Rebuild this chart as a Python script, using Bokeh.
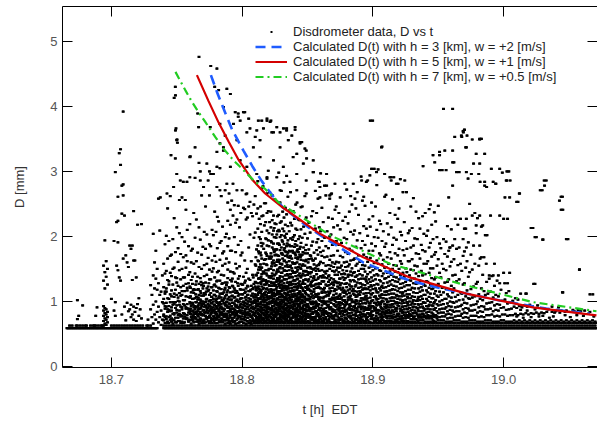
from bokeh.plotting import figure
from bokeh.models import (Range1d, LinearAxis, FixedTicker, PrintfTickFormatter,
                          CustomJSTickFormatter, Legend, LegendItem)
from bokeh.embed import file_html
from bokeh.resources import INLINE

# ---------------- data ----------------
# disdrometer samples: "ms:D D|D D" -> t = 18 + ms/1000 h (left group) and
# 18 + (ms+1)/1000 h (right group); D in 1/100 mm
cols_left = [
    "666:59|59", "668:59 63|59", "670:59 63|59", "672:59|59 63", "674:59 63 73 102|59 78",
    "676:59 63|59", "678:59 63 94|59", "680:59 63|59 63", "682:59|59", "684:59 63|59",
    "686:59 63|59 63", "688:59 63 78|59 91", "690:59 63|59", "692:59 63|59 63",
    "694:59 63 70 78 86 93 132 155|59 66 74 82 90 120 145 194",
    "696:59 64 72 80 88 138 162|59 68 76 84 126 150",
    "698:59|59", "700:59 63 104|59", "702:59 63 86 193|59 78 99 299",
    "704:59 63 155 222|59 148 191 224 261", "706:59 63 137 328|59 132 310 334",
    "708:59 63 80 235 278|59 166 263 280 392", "710:59 63 92 232|59 71 171",
    "712:59 63 98 160|59 85 153", "714:59 63 88 186|59 76 95 181",
    "716:59 63 80 133 186|59 72 92 163 239", "718:59 63 84 163|59 70 90 137",
    "720:59 63 96 218|59 78 105", "722:59 63 88|59 74 219", "724:59 63|59", "726:59|59 63",
    "728:59 63 72|59", "730:59 63 88 125|59 76 110", "732:59 66 95 140 204|59 80 120 160",
    "734:59 72 100 135 178|59 84 118 150", "736:68 92 128 258|76 110 209",
    "738:64 86 115|72 99 140",
]
cols_rise = [
    "746:59 63 69 74 86 91 108 117 139 172|59 66 72 81 95 99 126 150 196",
    "740:59 63 71 78 80 97 104 122 158|59 67 76 89 93 112 115 143 188",
    "750:59 63 68 83 87 94 110 129 136 214|59 70 75 79 101 106 124 161 182",
    "742:59 63 73 77 92 98 115 120 147 201|59 67 69 84 88 105 133 166 243",
    "748:59 63 71 80 82 96 107 112 152 228|59 68 75 90 99 118 137 176",
    "744:59 63 67 76 87 93 104 126 131 193|59 72 78 85 99 111 144 170 262",
    "758:59 63 74 79 90 96 117 121 162 210|59 69 71 83 88 107 128 141 185",
    "752:59 63 70 81 86 95 100 113 148 205 256|59 67 77 79 92 109 122 134 173",
    "762:59 63 72 75 85 98 104 127 138 181|59 68 80 83 91 113 119 158 236",
    "754:59 63 69 78 88 91 110 116 150 199|59 67 74 82 96 102 124 137 168 284",
    "760:59 63 71 84 87 99 106 123 145 219|59 66 76 80 93 97 114 133 160 178",
    "756:59 63 68 77 81 94 102 116 137 192|59 73 75 89 91 108 127 152 171 241",
    "770:59 63 70 79 86 97 100 120 128 184|59 67 72 83 92 111 113 139 156 207",
    "764:59 63 74 76 88 93 105 118 143 198 290|59 69 81 84 99 107 131 162 226",
    "774:59 63 70 75 82 90 96 116 123 167 286|59 67 78 86 94 101 110 134 149 188 300",
    "766:59 63 72 79 85 92 103 118 138 175|59 66 71 81 89 97 110 127 153 214",
    "772:59 63 68 78 83 94 99 111 129 181 246|59 73 76 87 90 104 120 141 158 203",
    "768:59 63 70 74 84 89 98 103 116 136 195|59 67 79 81 93 96 109 125 150 172 263",
    "782:59 63 72 76 85 94 97 105 121 147 223|59 68 80 83 90 99 112 132 164 190",
    "776:59 63 70 75 80 88 92 102 113 134 185 296|59 67 73 84 86 97 107 122 146 163 210",
    "786:59 63 71 76 85 89 98 103 114 140 177|59 66 79 81 94 96 108 121 129 158 199 271",
    "778:59 63 73 77 86 91 100 104 117 151 202|59 67 75 82 88 95 110 126 137 170 238",
    "784:59 63 70 74 83 92 96 106 119 141 193 262|59 68 79 81 88 101 112 128 155 174 215",
    "780:59 63 72 80 84 93 102 108 123 161 207|59 67 76 78 89 98 115 132 145 182 230",
    "794:59 63 69 75 84 88 97 106 120 143 199 248|59 66 79 82 92 101 113 130 158 176 221",
    "788:59 63 71 76 81 94 99 110 125 166 204|59 67 73 85 90 104 117 136 149 185 224 252",
    "798:59 63 68 77 86 91 100 111 139 154 214|59 73 82 83 96 105 118 127 171 193 236",
    "790:59 63 70 74 83 92 97 107 122 160 197 266|59 66 79 87 89 102 114 133 146 178 218 241",
    "796:59 63 72 81 85 94 103 116 151 226|59 67 77 78 90 99 109 124 135 187 247",
    "792:59 63 70 75 84 93 103 108 131 178 255|59 68 80 83 89 98 115 123 145 232 281",
    "806:59 63 71 81 85 94 104 116 133 203 253|59 66 76 78 90 99 109 124 162 236",
    "800:59 63 69 77 86 91 105 111 126 175 271|59 67 73 82 95 100 118 138 244",
    "808:59 63 70 74 84 92 97 112 119 141 231|59 67 79 81 88 101 106 127 198 249",
    "802:59 63 72 76 85 93 98 113 129 163 242|59 66 80 82 89 102 107 120 144 226 265",
    "804:59 63 70 75 83 92 96 110 124 150 229|59 67 79 80 88 100 105 116 135 183 246",
]
cols_core = [
    "816:59 63 71 75 83 87 95 103 108 119 134 146 189 232 277|59 67 70 79 81 91 99 106 113 126 143 164 217 251",
    "810:59 63 70 78 82 90 98 102 111 123 130 157 206 262|59 67 74 76 86 94 97 106 117 121 140 180 235",
    "820:59 63 72 76 84 92 96 104 113 118 131 148 194 239 301|59 67 69 80 88 89 100 108 115 124 139 169 222 268",
    "812:59 63 70 74 82 89 93 101 110 121 128 144 163 186 212 243 285|59 67 72 78 86 87 97 105 115 119 136 153 174 199 227",
    "818:59 63 69 75 78 84 91 94 102 110 115 126 133 148 165 175 197 222 251|59 67 72 73 81 88 90 98 106 108 120 128 140 156 170 186 209 236 289",
    "814:59 63 70 76 79 86 92 96 104 113 118 129 135 149 157 175 196 219 246|59 67 73 74 82 89 90 100 108 111 123 131 142 152 166 185 207 231 274",
    "828:59 63 69 72 81 85 91 95 103 111 116 127 133 146 161 170 189 210 233 298|59 67 75 78 80 88 93 99 107 112 121 130 139 153 158 179 199 221 252",
    "822:59 63 70 76 80 86 90 97 105 114 119 130 136 150 166 174 193 214 238|59 67 73 74 83 88 93 101 109 111 124 128 143 158 160 183 203 225 263",
    "832:59 63 69 75 78 85 92 99 103 107 117 128 134 147 162 179 188 208 229 283|59 67 72 76 82 88 95 96 106 112 122 124 140 154 170 177 198 218 244",
    "824:59 63 70 73 79 86 93 100 104 113 118 129 135 148 163 180 189 209 232|59 67 76 77 83 89 96 98 109 111 124 126 141 155 171 178 199 220 257",
    "830:59 63 69 72 79 85 92 96 103 111 116 126 132 144 158 174 183 202 223 270|59 67 75 76 82 89 91 99 107 109 121 124 138 151 166 172 192 212 238",
    "826:59 63 70 77 80 83 90 97 101 110 119 125 130 143 156 172 180 198 219|59 67 73 74 84 87 94 98 105 114 116 131 136 149 164 171 189 208 231",
    "840:59 63 69 76 79 82 93 96 100 112 117 122 133 145 159 175 184 202 227|59 67 72 75 83 86 89 101 104 108 122 127 139 152 167 171 193 212 249",
    "834:59 63 70 73 80 86 90 97 105 109 118 123 134 147 160 176 185 204 234 293|59 67 76 77 83 85 93 101 110 114 123 129 140 153 168 175 194 216 261",
    "844:59 63 69 72 78 85 92 95 103 111 116 126 131 143 157 172 181 200 225|59 67 75 76 82 88 89 99 107 108 121 122 137 150 164 170 190 211 245",
    "836:59 63 70 77 80 87 91 98 106 110 120 125 136 148 162 178 187 208 240|59 67 73 74 84 85 94 102 107 115 126 130 142 155 170 177 197 221 268",
    "842:59 63 69 76 79 86 90 97 105 109 118 123 134 146 160 177 186 210 252|59 67 72 73 83 84 93 101 106 113 124 128 140 153 168 176 196 226",
    "838:59 63 70 74 81 84 91 99 103 111 121 126 138 151 166 185 217|59 67 77 78 88 89 95 107 108 116 127 132 144 158 175 199 239",
    "848:59 63 69 72 78 82 88 95 99 107 116 127 140 155 174 204 262|59 67 75 76 85 86 92 103 104 111 121 133 147 164 187 229",
    "846:59 63 70 73 80 83 90 98 102 111 121 127 140 155 172 198 246|59 67 77 78 87 88 94 106 107 116 127 133 147 163 183 215",
]
cols_mid = [
    "856:59 63 71 74 85 90 99 107 111 126 133 151 166 212 270|59 67 70 81 84 95 97 110 121 127 142 155 179 191 236",
    "850:59 63 69 78 81 92 96 103 118 124 141 152 174 197|59 67 75 77 88 91 104 108 119 134 144 165 180 221",
    "860:59 63 73 77 86 90 101 106 120 127 139 161 176 208 297|59 67 70 80 83 94 99 113 115 131 137 148 170 193 244",
    "852:59 63 68 79 85 89 100 104 117 125 143 153 171 206|59 67 74 76 88 96 98 112 123 130 145 166 186 231",
    "858:59 63 71 78 82 93 95 107 111 127 135 150 172 196 258|59 67 69 75 87 90 102 106 121 128 147 158 183 214 284",
    "854:59 63 72 81 84 96 100 109 124 132 150 163 192 239|59 67 70 76 89 92 97 115 119 136 139 157 175 211",
    "868:59 63 68 77 81 91 98 102 116 127 136 155 170 203 265|59 67 74 78 85 88 103 106 121 129 147 160 187 227",
    "862:59 63 71 75 86 89 101 105 119 131 140 159 178 222|59 67 73 82 84 97 100 114 121 137 146 168 198 278",
    "872:59 63 69 80 83 92 99 112 118 130 148 161 193 246|59 67 72 77 88 95 104 107 123 128 141 152 178 217",
    "864:59 63 73 76 85 90 97 108 114 126 143 155 185 263|59 67 70 81 83 94 100 110 124 136 147 169 208",
    "870:59 63 68 74 84 87 96 105 110 125 134 153 171 214|59 67 72 79 86 93 101 106 119 131 141 158 189 241",
    "866:59 63 71 78 82 92 95 109 115 130 139 156 182 229|59 67 69 76 88 90 104 113 120 133 150 164 200 258",
    "880:59 63 73 80 85 96 99 111 122 128 147 161 196 272|59 67 70 77 82 89 102 106 117 138 141 154 173 220",
    "874:59 63 68 75 86 91 97 108 120 129 145 160 187 236|59 67 72 82 84 94 104 111 125 135 152 170 211",
    "884:59 63 71 74 83 88 99 103 116 123 140 151 178 249|59 67 69 79 87 92 100 112 119 133 144 164 203 281",
    "876:59 63 73 77 85 90 98 106 118 128 142 155 190|59 67 70 81 86 96 102 114 121 137 148 168 224",
    "882:59 63 68 76 82 91 95 107 113 126 141 157 181 238|59 67 74 78 88 93 103 109 123 131 146 163 207 262",
    "878:59 63 71 79 84 90 101 108 117 133 143 160 198|59 67 69 75 87 95 99 115 127 136 153 176 230",
    "892:59 63 72 77 81 92 97 105 118 126 140 156 193 255|59 67 70 80 85 89 103 112 120 135 150 172 216 261",
    "886:59 63 68 74 86 93 99 110 116 131 145 166 209|59 67 73 78 83 96 102 107 125 138 155 184 243",
    "896:59 63 71 76 82 90 100 105 119 128 142 161 201 286|59 67 69 80 87 93 97 113 122 134 152 178 226",
    "888:59 63 72 78 86 89 101 108 115 129 140 158 194 268|59 67 70 75 84 92 97 111 121 134 147 171 233",
    "894:59 63 68 77 80 91 98 106 119 125 146 155 187 247|59 67 73 74 87 88 103 109 113 131 138 168 212 284",
    "890:59 63 71 79 84 92 96 110 116 128 142 161 205|59 67 69 76 88 90 101 105 122 135 150 182 292",
    "904:59 63 72 75 83 87 99 104 114 126 140 158 198 303|59 67 70 80 86 95 98 109 120 133 148 174 224",
    "898:59 63 68 78 81 89 97 106 117 130 145 167 215 378|59 67 74 77 85 93 101 111 123 137 154 189 252",
    "908:59 63 71 76 84 88 100 105 121 128 143 164 208|59 67 69 80 82 92 96 110 115 135 152 184 261 296",
    "900:59 63 73 79 85 93 102 113 119 132 148 178 231|59 67 70 74 89 91 98 107 125 140 159 199 304",
    "906:59 63 69 76 80 92 96 106 117 131 147 171 219|59 67 73 78 84 88 101 111 124 139 157 193 338",
    "902:59 63 70 74 86 90 98 108 120 134 151 185 246|59 67 72 82 83 94 103 114 127 142 163 210 279",
    "916:59 63 69 80 84 92 101 112 124 138 156 198 291|59 67 72 76 88 97 106 118 131 146 174 233",
    "910:59 63 70 78 86 90 104 110 122 136 153 189 264|59 67 74 82 83 95 99 116 129 144 168 220",
    "920:59 63 69 77 81 93 98 108 120 134 150 181 243|59 67 73 74 85 89 103 114 127 141 162 207 288",
    "912:59 63 70 78 87 91 100 111 124 138 158 203|59 67 74 82 84 95 105 117 131 146 176 236",
    "918:59 63 69 77 85 90 99 110 123 137 155 195 281|59 67 73 79 81 94 104 116 130 145 171 227",
    "914:59 63 70 78 82 91 101 112 126 141 166 214 286|59 67 74 76 86 96 106 119 133 150 187 257",
    "928:59 63 69 77 81 90 100 111 125 140 162 209|59 67 73 79 86 95 105 118 132 149 183 246",
    "922:59 63 70 78 87 97 108 121 136 158 202|59 67 74 83 84 92 102 114 128 144 179 268",
    "932:59 63 69 77 86 96 107 120 135 155 197|59 67 73 82 83 91 101 113 127 143 174 238",
    "924:59 63 70 79 88 98 109 123 138 171 222|59 67 74 77 83 93 103 116 130 151 193",
    "930:59 63 69 78 87 97 108 121 136 165 213|59 67 73 76 82 92 102 114 128 148 186 259",
    "926:59 63 70 79 89 99 111 125 145 181|59 67 75 77 84 94 105 118 133 162 205",
    "940:59 63 69 78 88 98 110 124 142 177 236|59 67 74 76 83 93 104 117 131 158 201",
    "934:59 63 71 80 90 101 113 128 154 196|59 67 75 77 85 95 107 120 139 173 228",
    "944:59 63 69 78 88 99 112 126 151 190 249|59 67 74 77 83 94 105 119 136 169 218",
    "936:59 63 71 80 91 102 115 132 166 212|59 67 75 77 85 96 108 122 147 187",
    "942:59 63 69 79 89 101 114 130 162 209|59 67 74 76 84 95 107 121 144 183 242",
    "938:59 63 71 81 92 104 117 140 179 231|59 67 76 78 86 98 110 126 158 204",
    "948:59 63 69 79 90 102 116 137 176 223|59 67 74 77 85 96 109 124 155 199",
    "946:59 63 71 81 93 105 120 151 196 325|59 67 76 78 87 99 112 134 172 237",
]
cols_tail = [
    "956:59 63 69 80 91 104 119 148 192|59 67 74 85 97 111 130 169 216",
    "950:59 63 71 82 94 107 127 165 247|59 67 76 88 100 115 144 189 302",
    "960:59 63 69 80 92 106 124 161 211|59 67 75 86 99 114 140 186 278",
    "952:59 63 71 83 95 110 137 182|59 67 77 89 102 121 158 302",
    "958:59 63 69 81 93 108 134 178 260|59 67 75 87 100 118 154 183",
    "954:59 63 71 83 96 114 150 196 396|59 67 77 89 104 129 173 332",
    "968:59 63 69 81 95 112 147 353|59 67 75 88 103 126 170 196 362",
    "962:59 63 71 84 98 120 165 314|59 67 77 91 107 141 227",
    "972:59 63 69 82 97 117 162 355|59 67 75 89 105 138 191",
    "964:59 63 71 85 100 131 181 299|59 67 78 92 110 156 218",
    "970:59 63 69 83 98 128 177 364|59 67 76 90 108 152 212 337",
    "966:59 63 71 85 102 134 183 299|59 67 78 93 114 158 227",
    "980:59 63 69 83 100 130 228|59 67 76 91 111 155 296",
    "974:59 63 71 86 104 145 250|59 67 78 94 119 172",
    "984:59 63 69 84 102 141 217|59 67 76 92 116 168",
    "976:59 63 71 86 106 149 232 349|59 67 78 95 123 186 312",
    "982:59 63 69 85 104 166 284|59 67 77 93 120 215 350",
    "978:59 63 71 87 108 158 236|59 67 78 96 127 205 327",
    "992:59 63 69 85 106 140 284|59 67 77 94 124 158",
    "986:59 63 71 88 110 202|59 67 79 97 130 276",
    "996:59 63 69 86 108 140|59 67 77 95 128 304",
    "988:59 63 71 88 112|59 67 79 98 135",
    "994:59 63 69 87 110 281|59 67 78 96 132",
    "990:59 63 71 89 115 232|59 67 80 99 139",
    "1002:59 63 69 87 113|59 67 78 97 128",
    "998:59 63 71 90 118|59 67 80 101 298",
    "1004:59 63 69 88 116 300|59 67 79 99 286",
    "1000:59 63 71 91 144 227|59 67 80 103 260",
    "1006:59 63 69 89 98|59 67 79 101", "1008:59 63 71 92|59 67 81 105",
    "1010:59 63 69 77 90 253|59 67 79 103", "1012:59 63 71 93 266|59 67 81 87 112",
    "1014:59 63 69 91|59 67 75 80", "1016:59 63 71 94|59 67 82 112",
    "1018:59 63 69 86 92|59 67 80", "1020:59 63 71 95|59 67 76 82 213",
    "1022:59 63 69 93|59 67 81 127", "1024:59 63 71 88 199|59 67 83",
    "1026:59 63 69 94|59 67 77 81", "1028:59 63 71 271|59 67 83 90",
    "1030:59 63 69 78 195|59 67 82 286", "1032:59 63 71|59 67 84",
    "1034:59 63 69 88|59 67 75", "1036:59 63 71|59 67 84 92",
    "1038:59 63 69 77|59 67 83", "1040:59 63 71 85|59 67",
    "1042:59 63 69 91|59 67 83", "1044:59 63 71 86 241|59 67 114 261",
    "1046:59 63 69|59 67 79 84", "1048:59 63 71 86 196|59 67",
    "1050:59 63 69 84|59 67 76", "1052:59 63 71|59 67 87",
    "1054:59 63 69 85|59 67", "1056:59 63 71 79|59 67 87",
    "1058:59 63 69 149|59 67 85", "1060:59 63 71|59 67 78",
    "1062:59 63 69 86|59 67", "1064:59 63 71|59 67 81",
    "1066:59 63 69 84 111|59 67", "1068:59 63 71|59 67 77", "1070:59 63 69|59 67",
]
# extra samples in the densest part of the cloud: "t:D D" with t = 18 + t/10000 h
cols_dense_extra = [
    "7605:72 81 89 97 108 121", "7625:70 78 86 95 104 117", "7645:74 83 91 99 111 126",
    "7665:69 77 88 94 106 119", "7685:73 80 90 101 113 130", "7705:71 79 87 96 109 124",
    "7725:75 84 92 103 115", "7745:68 76 85 93 100 118 128", "7765:72 82 89 98 107 122",
    "7785:70 77 86 95 110 125", "7805:74 81 91 99 104 116 131", "7825:69 78 87 94 108 120",
    "7845:73 83 90 102 112 127", "7865:71 80 88 97 105 118", "7885:75 79 92 100 114 129",
    "7905:68 77 85 96 103 121", "7925:72 82 89 98 109 124 135", "7945:70 78 87 95 107 117",
    "7965:74 84 91 101 113 128", "7985:69 76 86 94 104 119", "8005:73 81 90 99 111 126",
    "8025:71 79 88 97 106 115 132", "8045:75 83 92 100 110 123", "8065:68 77 86 95 103 118",
    "8085:72 80 89 98 108 121 137",
    "8105:71 78 85 93 101 109 118 129 141 155 168", "8125:74 81 88 96 104 113 123 135 149 162 177",
    "8145:69 77 84 92 99 107 116 127 138 152 171 190", "8165:73 80 87 95 103 111 121 132 145 158 181",
    "8185:70 79 86 94 102 110 119 130 143 157 173 196", "8205:72 78 89 97 105 114 125 137 150 166 185 205",
    "8225:75 82 90 98 106 116 128 139 154 169 191", "8245:68 76 85 93 100 108 117 126 140 159 176 199 213",
    "8265:71 80 87 96 104 112 122 133 146 161 180 203", "8285:74 81 89 97 107 115 124 136 151 164 187 208",
    "8305:69 77 84 92 101 109 119 131 144 157 174 194", "8325:73 79 88 95 103 113 121 134 148 163 182 201",
    "8345:70 78 86 94 102 111 120 129 142 156 171 189", "8365:72 81 90 98 105 116 126 138 153 167 185",
    "8385:75 83 91 99 108 117 127 137 147 160 178 195", "8405:68 77 85 93 100 110 123 132 144 158 173 188",
    "8425:71 80 87 96 104 112 121 135 149 165 180", "8445:74 82 89 97 106 114 125 139 152 168 184",
    "8465:69 76 84 92 101 109 118 130 143 157 176", "8485:73 79 88 95 103 113 122 134 146 162 179",
    "8505:70 78 86 94 102 110 120 131 145 160", "8525:72 81 90 98 107 116 127 138 151 170",
    "8545:75 83 91 99 105 115 124 136 149 163", "8565:68 77 85 93 100 111 121 133 147",
    "8585:71 80 87 96 104 112 123 137 156",
    "8625:70 79 88 97 107 118 131", "8665:73 82 91 100 112 125 140", "8705:69 77 86 95 104 116 129 146",
    "8745:72 81 89 99 109 121 135", "8785:75 84 93 102 113 127 142", "8825:68 78 87 96 106 119 133",
    "8865:71 80 90 99 110 123 138", "8905:74 83 92 101 114 128", "8945:70 79 88 97 108 120 134",
    "8985:73 82 91 100 111 125", "9025:69 78 87 96 105 117", "9065:72 81 90 99 110 122",
    "9105:75 84 93 103 115", "9145:68 77 86 95 106 118", "9185:71 80 89 98 109",
    "9225:74 83 92 101 112", "9265:70 79 88 97 107", "9305:73 82 91 100",
    "9345:69 78 87 96 104", "9385:72 81 90 99", "9425:75 84 93", "9465:70 79 88 97",
]
# isolated large drops read individually
outlier_t = [18.7489, 18.748, 18.7494, 18.7502, 18.7505, 18.7456, 18.7489, 18.7603, 18.767, 18.764,
             18.7667, 18.766, 18.767, 18.776, 18.7807, 18.782, 18.7883, 18.791, 18.750, 18.7578,
             18.754, 18.7565, 18.768, 18.768, 18.775, 18.783, 18.778, 18.7807, 18.783, 18.7857,
             18.7947, 18.797, 18.802, 18.805, 18.8036, 18.8124, 18.819, 18.822, 18.8163, 18.8265,
             18.834, 18.8405, 18.8456, 18.848, 18.8998, 18.9066, 18.961, 18.9692, 18.9817, 18.951,
             18.9753, 18.9855, 19.002, 19.0122, 19.0326, 19.0313, 19.0427, 18.9384, 18.899, 18.914,
             18.970, 18.9677, 18.9626, 18.9715, 18.951, 18.961, 18.9473, 18.956, 18.961, 18.9715,
             18.9728, 18.9817, 18.9855, 18.9817, 18.9906, 18.9855, 19.0025, 19.0025, 18.994, 19.0046,
             19.011, 18.997, 19.003, 18.9817, 18.9715, 18.979, 18.970, 18.9873, 19.0295, 19.0439,
             19.0453, 19.0224, 19.025, 19.030, 19.0492, 19.058, 19.0682, 19.0453, 19.024, 19.0173,
             19.0046, 18.989, 19.0008, 18.9867, 18.983, 18.9817, 18.9715, 18.9626, 18.9588,
             18.801, 18.797, 18.815, 18.8214, 18.7934, 18.8112, 18.8227, 18.829, 18.8316, 18.838,
             18.8405, 18.8443, 18.8418, 18.8493, 18.8544, 18.8583, 18.8646, 18.867, 18.875, 18.8786,
             18.8863, 18.8914, 18.8977, 18.9028, 18.913, 18.9193, 18.9244, 18.9257,
             18.7985, 18.787, 18.796, 18.783, 18.7857, 18.806, 18.810, 18.8137, 18.819, 18.824,
             18.834, 18.8353, 18.8443, 18.849, 18.8544, 18.8646, 18.871, 18.8684, 18.8595, 18.849,
             18.8418, 18.8315, 18.824, 18.8137, 18.8086, 18.829, 18.839, 18.8468, 18.8544, 18.8366,
             18.8265, 18.819, 18.8112, 18.8036, 18.7985, 18.791, 18.7807, 18.7883, 18.796, 18.8036,
             18.819, 18.829, 18.8418, 18.849, 18.8595, 18.750, 18.749, 18.760, 18.760, 18.7527,
             18.7476, 18.7425, 18.7374, 18.773, 18.7705, 18.7807, 18.749, 18.779, 18.7857, 18.783,
             18.7756]
outlier_d = [4.30, 4.13, 3.66, 3.49, 3.44, 3.25, 3.20, 3.23, 3.13, 3.37,
             3.68, 3.89, 4.76, 4.62, 4.58, 4.25, 4.27, 4.19, 2.96, 2.84,
             2.60, 2.56, 2.86, 3.00, 2.63, 2.71, 2.96, 3.30, 3.05, 3.37,
             3.91, 3.84, 3.91, 3.81, 3.60, 3.78, 3.81, 3.78, 3.66, 3.68,
             3.66, 3.68, 3.45, 3.35, 3.78, 3.37, 3.96, 3.60, 3.50, 3.25,
             2.96, 2.78, 2.86, 2.66, 2.86, 2.78, 2.55, 3.08, 3.04, 2.91,
             3.64, 3.55, 3.53, 3.37, 3.30, 3.32, 3.14, 3.02, 3.14, 2.99,
             2.89, 3.49, 3.27, 3.12, 3.04, 2.84, 3.00, 2.86, 2.81, 2.60,
             2.53, 2.32, 2.27, 2.32, 2.27, 2.17, 2.12, 2.02, 2.71, 2.61,
             2.41, 2.13, 1.99, 1.95, 1.96, 1.49, 1.11, 1.14, 1.27, 1.12,
             1.44, 1.40, 1.28, 1.58, 1.68, 1.86, 1.83, 1.96, 1.83,
             3.91, 3.89, 3.78, 3.76, 3.73, 3.63, 3.60, 3.60, 3.66, 3.55,
             3.64, 3.45, 3.27, 3.20, 2.99, 2.84, 2.78, 2.63, 2.60, 2.81,
             2.58, 2.86, 2.94, 2.99, 2.91, 2.81, 2.86, 2.68,
             3.78, 3.55, 3.48, 3.43, 3.32, 3.66, 3.53, 3.48, 3.78, 3.60,
             3.63, 3.48, 3.43, 3.32, 3.17, 2.96, 2.81, 2.66, 2.76, 2.86,
             2.96, 3.07, 3.17, 3.22, 3.37, 3.37, 3.22, 3.12, 2.99, 2.84,
             2.91, 2.91, 2.96, 3.07, 3.17, 3.07, 2.76, 2.81, 2.71, 2.66,
             2.66, 2.71, 2.71, 2.66, 2.60, 3.48, 3.63, 3.22, 2.91, 2.86,
             2.76, 2.66, 2.60, 3.12, 2.76, 3.07, 4.17, 4.30, 3.99, 3.73,
             3.68]

# calculated curves
t_h3 = [18.7761, 18.7811, 18.7875, 18.7926, 18.8010, 18.8078, 18.8150, 18.8240, 18.8315,
        18.8520, 18.8926, 18.9280, 18.9537, 18.9970, 19.0326, 19.0660]
d_h3 = [4.48, 4.20, 3.88, 3.63, 3.32, 3.08, 2.85, 2.61, 2.44,
        2.12, 1.60, 1.32, 1.195, 1.015, 0.89, 0.81]
t_h5 = [18.7654, 18.7743, 18.7820, 18.7896, 18.7972, 18.8074, 18.8176, 18.8300,
        18.8595, 18.8926, 18.9282, 18.9715, 19.0224, 19.0710]
d_h5 = [4.48, 4.08, 3.75, 3.46, 3.18, 2.88, 2.66, 2.46,
        2.04, 1.68, 1.37, 1.12, 0.91, 0.785]
t_h7 = [18.7490, 18.7565, 18.7616, 18.7667, 18.7718, 18.7794, 18.7857, 18.7934, 18.8010,
        18.8099, 18.8176, 18.8280, 18.8672, 18.9130, 18.9715, 19.0224, 19.0710]
d_h7 = [4.53, 4.25, 4.07, 3.91, 3.76, 3.53, 3.35, 3.17, 3.02,
        2.84, 2.73, 2.52, 2.02, 1.58, 1.246, 0.99, 0.85]

x_ticks = [18.7, 18.8, 18.9, 19.0]
y_ticks = [0, 1, 2, 3, 4, 5]
labels = ["Disdrometer data, D vs t",
          "Calculated D(t) with h = 3 [km], w = +2 [m/s]",
          "Calculated D(t) with h = 5 [km], w = +1 [m/s]",
          "Calculated D(t) with h = 7 [km], w = +0.5 [m/s]"]


def parse(cols, scale=1000.0):
    ts, ds = [], []
    for c in cols:
        k, v = c.split(":")
        for j, part in enumerate(v.split("|")):
            t = 18 + (int(k) + j) / scale
            for d in part.split():
                ts.append(t)
                ds.append(int(d) / 100.0)
    return ts, ds


scat_t, scat_d = [], []
for group in (cols_left, cols_rise, cols_core, cols_mid, cols_tail):
    a, b = parse(group)
    scat_t += a
    scat_d += b
a, b = parse(cols_dense_extra, 10000.0)
scat_t += a
scat_d += b
scat_t += outlier_t
scat_d += outlier_d

# ---------------- figure ----------------
FONT = "Liberation Sans"
p = figure(width=597, height=422, output_backend="svg", toolbar_location=None,
           x_range=Range1d(18.6626, 19.0718), y_range=Range1d(-0.015, 5.535),
           min_border_left=62, min_border_right=0, min_border_top=6, min_border_bottom=55,
           x_axis_label="t [h]\u00a0 EDT", y_axis_label="D [mm]")
p.outline_line_color = None
p.grid.visible = False
p.background_fill_color = "white"

r_pts = p.scatter(scat_t, scat_d, marker="square", size=2, fill_color="black",
                  line_color=None)
# each sample also drawn as a small dark dash, like the original plot's pixels
p.rect(scat_t, scat_d, width=3.0, height=2.2, width_units="screen", height_units="screen",
       fill_color="black", line_color=None)
r3 = p.line(t_h3, d_h3, line_color="#1f5cff", line_width=2.6, line_dash="10 6")
r5 = p.line(t_h5, d_h5, line_color="#d40000", line_width=2.2)
r7 = p.line(t_h7, d_h7, line_color="#22cc22", line_width=2.2, line_dash="8 4 2 4")

for ax in (p.xaxis[0], p.yaxis[0]):
    ax.axis_line_color = "black"
    ax.major_tick_line_color = "black"
    ax.major_tick_in = 10
    ax.major_tick_out = 0
    ax.minor_tick_in = 0
    ax.minor_tick_out = 0
    ax.minor_tick_line_color = None
    ax.major_label_text_font = FONT
    ax.major_label_text_font_size = "13px"
    ax.major_label_text_color = "#555555"
    ax.axis_label_text_font = FONT
    ax.axis_label_text_font_size = "13px"
    ax.axis_label_text_font_style = "normal"
    ax.axis_label_text_color = "#333333"

p.xaxis[0].ticker = FixedTicker(ticks=x_ticks)
p.xaxis[0].formatter = PrintfTickFormatter(format="%.1f")
p.xaxis[0].major_label_standoff = 7
p.xaxis[0].axis_label_standoff = 15
p.yaxis[0].ticker = FixedTicker(ticks=y_ticks)
p.yaxis[0].major_label_standoff = 5
p.yaxis[0].axis_label_standoff = 20

top = LinearAxis(ticker=FixedTicker(ticks=x_ticks), formatter=CustomJSTickFormatter(code="return '';"),
                 major_label_standoff=0, major_tick_in=10, major_tick_out=0,
                 minor_tick_in=0, minor_tick_out=0, minor_tick_line_color=None,
                 axis_line_color="black", major_tick_line_color="black")
right = LinearAxis(ticker=FixedTicker(ticks=y_ticks), formatter=CustomJSTickFormatter(code="return '';"),
                   major_label_standoff=0, major_tick_in=10, major_tick_out=0,
                   minor_tick_in=0, minor_tick_out=0, minor_tick_line_color=None,
                   axis_line_color=None, major_tick_line_color="black")
p.add_layout(top, "above")
p.add_layout(right, "right")

legend = Legend(items=[LegendItem(label=labels[0], renderers=[r_pts]),
                       LegendItem(label=labels[1], renderers=[r3]),
                       LegendItem(label=labels[2], renderers=[r5]),
                       LegendItem(label=labels[3], renderers=[r7])],
                location=(193, 283), padding=0, margin=0, spacing=0,
                glyph_width=32, glyph_height=5, label_height=13, label_standoff=6,
                label_text_font=FONT, label_text_font_size="13px",
                label_text_color="#222222", border_line_color=None,
                background_fill_alpha=0)
p.add_layout(legend, "center")

open("out.html", "w").write(file_html(p, INLINE))
